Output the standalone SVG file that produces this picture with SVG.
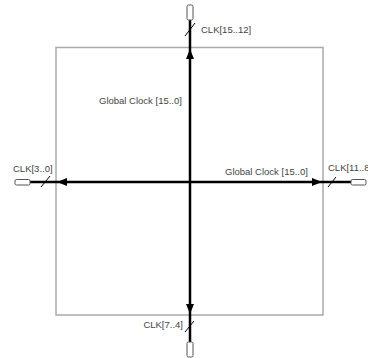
<svg xmlns="http://www.w3.org/2000/svg" width="368" height="358" viewBox="0 0 368 358">
<style>
.box{fill:none;stroke:#aaa;stroke-width:1.5}
.bus{stroke:#000;stroke-width:2.5;fill:none}
.sl{stroke:#000;stroke-width:1;fill:none}
.pin{fill:#fff;stroke:#555;stroke-width:1}
.lbl{font-family:"Liberation Sans",Arial,sans-serif;font-size:9.5px;fill:#444}
</style>
<defs>
<marker id="ah" viewBox="0 0 10 8" refX="10" refY="4" markerWidth="10" markerHeight="8" markerUnits="userSpaceOnUse" orient="auto"><path d="M0,0 L10,4 L0,8 Z" fill="#000"/></marker>
</defs>
<rect id="chip" class="box" x="56" y="47.5" width="267" height="267.5"/>
<g id="connectors">
<line class="bus" x1="190" y1="182" x2="57" y2="182" marker-end="url(#ah)"/>
<line class="bus" x1="190" y1="182" x2="322" y2="182" marker-end="url(#ah)"/>
<line class="bus" x1="190" y1="182" x2="190" y2="49" marker-end="url(#ah)"/>
<line class="bus" x1="190" y1="182" x2="190" y2="314" marker-end="url(#ah)"/>
<line class="bus" x1="30" y1="182" x2="57" y2="182"/>
<line class="bus" x1="322" y1="182" x2="351" y2="182"/>
<line class="bus" x1="190" y1="20" x2="190" y2="49"/>
<line class="bus" x1="190" y1="314" x2="190" y2="342"/>
<line class="sl" x1="185" y1="36" x2="195" y2="23"/>
<line class="sl" x1="41" y1="187" x2="50" y2="176"/>
<line class="sl" x1="328" y1="187" x2="336" y2="177"/>
<line class="sl" x1="185" y1="332" x2="194" y2="321"/>
</g>
<g id="pin-top"><rect class="pin" x="187" y="5" width="6" height="15" rx="1.5"/><text class="lbl" x="201" y="33">CLK[15..12]</text></g>
<g id="pin-left"><rect class="pin" x="15" y="179.5" width="15" height="5.5" rx="1.5"/><text class="lbl" x="13" y="172">CLK[3..0]</text></g>
<g id="pin-right"><rect class="pin" x="351" y="179.5" width="15" height="5.5" rx="1.5"/><text class="lbl" x="328" y="171">CLK[11..8]</text></g>
<g id="pin-bottom"><rect class="pin" x="187" y="342" width="6" height="15" rx="1.5"/><text class="lbl" x="183" y="328" text-anchor="end">CLK[7..4]</text></g>
<g id="labels">
<text class="lbl" x="99" y="104">Global Clock [15..0]</text>
<text class="lbl" x="225" y="175">Global Clock [15..0]</text>
</g>
</svg>
